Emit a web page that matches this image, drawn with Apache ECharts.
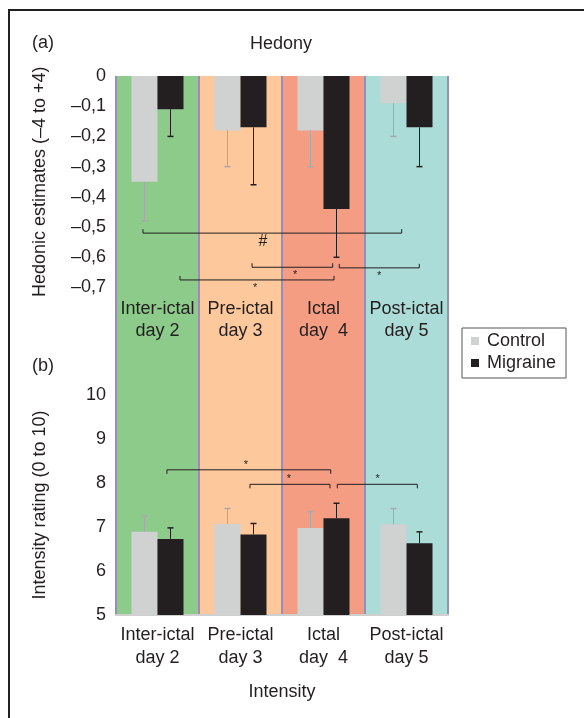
<!DOCTYPE html>
<html>
<head>
<meta charset="utf-8">
<script src="https://cdn.jsdelivr.net/npm/echarts@6/dist/echarts.min.js"></script>
<style>
  body { margin: 0; background: #fff; }
  #wrap { position: relative; width: 584px; height: 718px; overflow: hidden; }
  #main { width: 584px; height: 718px; }
  #frame { position: absolute; left: 8px; top: 9px; width: 700px; height: 800px;
           border-left: 2px solid #231f20; border-top: 2px solid #231f20; pointer-events: none; }
</style>
</head>
<body>
<div id="wrap">
  <div id="main"></div>
  <div id="frame"></div>
</div>
<script>
// categories (same for both panels)
var days = ['Inter-ictal\nday 2', 'Pre-ictal\nday 3', 'Ictal\nday  4', 'Post-ictal\nday 5'];

// (a) hedony
var hedonyControl = [-0.35, -0.18, -0.18, -0.09];
var hedonyControlErr = [0.13, 0.12, 0.12, 0.11];
var hedonyMigraine = [-0.11, -0.17, -0.44, -0.17];
var hedonyMigraineErr = [0.09, 0.19, 0.16, 0.13];
var hedonyTicks = [0, -0.1, -0.2, -0.3, -0.4, -0.5, -0.6, -0.7];

// (b) intensity
var intensityControl = [6.89, 7.07, 6.98, 7.06];
var intensityControlErr = [0.36, 0.35, 0.37, 0.36];
var intensityMigraine = [6.73, 6.83, 7.20, 6.63];
var intensityMigraineErr = [0.25, 0.25, 0.34, 0.26];
var intensityTicks = [5, 6, 7, 8, 9, 10];

// brackets: [from, to, level, mark position, mark] (x in category units)
var hedonyBrackets = [
  [-0.175, 2.942, -0.52, 1.271, '#'],
  [1.139, 2.111, -0.633, 1.657, '*'],
  [0.271, 2.127, -0.675, 1.175, '*'],
  [2.190, 3.154, -0.635, 2.669, '*']
];
var intensityBrackets = [
  [0.114, 2.087, 8.30, 1.066, '*'],
  [1.114, 2.078, 7.97, 1.584, '*'],
  [2.166, 3.130, 7.97, 2.653, '*']
];

var bandColors = ['#8dcb8a', '#fcc89c', '#f49d83', '#acdcd8'];
var ink = '#231f20';
var font = "'Liberation Sans', Arial, sans-serif";

function hedonyLabel(v) {
  if (v === 0) return '0';
  return '\u2013' + Math.abs(v).toFixed(1).replace('.', ',');
}

function errorItem(offset, color, dir) {
  return function (params, api) {
    var i = api.value(0), m = api.value(1), e = api.value(2);
    var p0 = api.coord([i, m]);
    var p1 = api.coord([i, m + dir * e]);
    var x = p0[0] + offset;
    return {
      type: 'group',
      children: [
        { type: 'line', shape: { x1: x, y1: p0[1], x2: x, y2: p1[1] }, style: { stroke: color, lineWidth: 1 } },
        { type: 'line', shape: { x1: x - 3, y1: p1[1], x2: x + 3, y2: p1[1] }, style: { stroke: color, lineWidth: 1.5 } }
      ]
    };
  };
}

function bracketItem(list, tick, labelDy) {
  return function (params, api) {
    var b = list[params.dataIndex];
    var a = api.coord([b[0], b[2]]);
    var c = api.coord([b[1], b[2]]);
    var m = api.coord([b[3], b[2]]);
    var big = b[4] === '#';
    return {
      type: 'group',
      children: [
        { type: 'polyline', shape: { points: [[a[0], a[1] + tick], [a[0], a[1]], [c[0], c[1]], [c[0], c[1] + tick]] },
          style: { stroke: ink, lineWidth: 1, fill: null } },
        { type: 'text', x: m[0], y: m[1] + (big ? 8 : labelDy),
          style: { text: b[4], fill: ink, font: (big ? 16 : 11) + 'px ' + font, align: 'center', verticalAlign: 'middle' } }
      ]
    };
  };
}

function pack(vals, errs) {
  return vals.map(function (v, i) { return [i, v, errs[i]]; });
}

var chart = echarts.init(document.getElementById('main'));

var option = {
  animation: false,
  textStyle: { fontFamily: font, color: ink },
  grid: [
    { left: 116, top: 76, width: 332, height: 539 },
    { left: 116, top: 76, width: 332, height: 211.5 },
    { left: 116, top: 395, width: 332, height: 220 }
  ],
  legend: {
    orient: 'vertical',
    left: 462, top: 328,
    data: ['Control', 'Migraine'],
    icon: 'rect',
    itemWidth: 8, itemHeight: 8,
    itemGap: 4,
    padding: [4, 10, 6, 9],
    borderColor: '#555',
    borderWidth: 1,
    textStyle: { fontSize: 18, lineHeight: 18, color: ink, fontFamily: font, padding: [0, 0, 0, 3] }
  },
  graphic: [
    { type: 'text', left: 32, top: 34, style: { text: '(a)', font: '18px ' + font, fill: ink } },
    { type: 'text', left: 32, top: 357, style: { text: '(b)', font: '18px ' + font, fill: ink } },
    { type: 'text', x: 281, y: 44, style: { text: 'Hedony', font: '18px ' + font, fill: ink, align: 'center', verticalAlign: 'middle' } }
  ],
  xAxis: [
    { type: 'category', gridIndex: 0, data: days, position: 'top', z: 3,
      axisLine: { show: true, lineStyle: { color: '#cfcfcf', width: 2 } },
      axisTick: { show: false }, axisLabel: { show: false },
      splitLine: { show: true, interval: 0, lineStyle: { color: '#9b8db8', width: 2 } } },
    { type: 'category', gridIndex: 1, data: days, position: 'bottom', z: 3,
      axisLine: { show: false }, axisTick: { show: false },
      axisLabel: { margin: 10, fontSize: 18, lineHeight: 22.5, color: ink, interval: 0 } },
    { type: 'category', gridIndex: 2, data: days, position: 'bottom', z: 3,
      axisLine: { show: true, lineStyle: { color: '#cfcfcf', width: 2 } }, axisTick: { show: false },
      axisLabel: { margin: 9, fontSize: 18, lineHeight: 22.5, color: ink, interval: 0 },
      name: 'Intensity', nameLocation: 'middle', nameGap: 68,
      nameTextStyle: { fontSize: 18, color: ink } },
    { type: 'value', gridIndex: 1, min: -0.5, max: 3.5, show: false },
    { type: 'value', gridIndex: 2, min: -0.5, max: 3.5, show: false }
  ],
  yAxis: [
    { type: 'value', gridIndex: 0, min: 0, max: 1, show: false },
    { type: 'value', gridIndex: 1, min: -0.7, max: 0, interval: 0.1, z: 3,
      axisLine: { show: false }, axisTick: { show: false }, splitLine: { show: false },
      axisLabel: { margin: 10, fontSize: 18, color: ink, formatter: hedonyLabel,
        customValues: hedonyTicks },
      name: 'Hedonic estimates (\u20134 to +4)', nameLocation: 'middle', nameGap: 67,
      nameTextStyle: { fontSize: 18, color: ink } },
    { type: 'value', gridIndex: 2, min: 5, max: 10, interval: 1, z: 3,
      axisLine: { show: false }, axisTick: { show: false }, splitLine: { show: false },
      axisLabel: { margin: 10, fontSize: 18, color: ink, customValues: intensityTicks },
      name: 'Intensity rating (0 to 10)', nameLocation: 'middle', nameGap: 67,
      nameTextStyle: { fontSize: 18, color: ink } }
  ],
  series: [
    { type: 'bar', xAxisIndex: 0, yAxisIndex: 0, barWidth: '100%', z: 1, silent: true,
      data: bandColors.map(function (c) { return { value: 1, itemStyle: { color: c } }; }) },

    { name: 'Control', type: 'bar', xAxisIndex: 1, yAxisIndex: 1, barWidth: 26, barGap: '0%', z: 5,
      itemStyle: { color: '#d0d1d1' }, data: hedonyControl },
    { name: 'Migraine', type: 'bar', xAxisIndex: 1, yAxisIndex: 1, barWidth: 26, barGap: '0%', z: 5,
      itemStyle: { color: ink }, data: hedonyMigraine },
    { type: 'custom', xAxisIndex: 1, yAxisIndex: 1, z: 6, silent: true,
      renderItem: errorItem(-13, '#a7a9ab', -1), data: pack(hedonyControl, hedonyControlErr) },
    { type: 'custom', xAxisIndex: 1, yAxisIndex: 1, z: 6, silent: true,
      renderItem: errorItem(13, ink, -1), data: pack(hedonyMigraine, hedonyMigraineErr) },
    { type: 'custom', xAxisIndex: 3, yAxisIndex: 1, z: 6, silent: true,
      renderItem: bracketItem(hedonyBrackets, -4, 8),
      data: hedonyBrackets.map(function (b) { return [b[0], b[2]]; }) },

    { name: 'Control', type: 'bar', xAxisIndex: 2, yAxisIndex: 2, barWidth: 26, barGap: '0%', z: 5,
      itemStyle: { color: '#d0d1d1' }, data: intensityControl },
    { name: 'Migraine', type: 'bar', xAxisIndex: 2, yAxisIndex: 2, barWidth: 26, barGap: '0%', z: 5,
      itemStyle: { color: ink }, data: intensityMigraine },
    { type: 'custom', xAxisIndex: 2, yAxisIndex: 2, z: 6, silent: true,
      renderItem: errorItem(-13, '#a7a9ab', 1), data: pack(intensityControl, intensityControlErr) },
    { type: 'custom', xAxisIndex: 2, yAxisIndex: 2, z: 6, silent: true,
      renderItem: errorItem(13, ink, 1), data: pack(intensityMigraine, intensityMigraineErr) },
    { type: 'custom', xAxisIndex: 4, yAxisIndex: 2, z: 6, silent: true,
      renderItem: bracketItem(intensityBrackets, 4, -5),
      data: intensityBrackets.map(function (b) { return [b[0], b[2]]; }) }
  ]
};

chart.setOption(option);
</script>
</body>
</html>
